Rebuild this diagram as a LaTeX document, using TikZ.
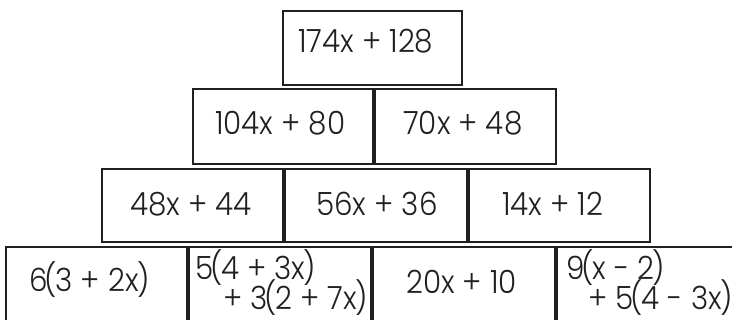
\documentclass[tikz,border=0pt]{standalone}
\usepackage{fontspec}
\setmainfont{Poppins Light}[FakeStretch=0.92]
\definecolor{ink}{HTML}{231F20}
\newcommand\lpar{\kern-3pt(\kern-1.5pt}
\newcommand\rpar{\kern-1.5pt)}
\begin{document}
\begin{tikzpicture}[x=1pt,y=-1pt,
  brick/.style={draw=ink,line width=2.2pt},
  expr/.style={inner sep=0pt,anchor=base west,text=ink,font=\fontsize{32}{34}\selectfont}]
\useasboundingbox (0,0) rectangle (732,320);
\clip (0,0) rectangle (732,320);
% row 1
\draw[brick] (283,11) rectangle (462,85);
% row 2
\draw[brick] (193,89) rectangle (372.8,164);
\draw[brick] (375.2,89) rectangle (556,164);
% row 3
\draw[brick] (102,169) rectangle (282.8,242);
\draw[brick] (285.2,169) rectangle (466.8,242);
\draw[brick] (469.2,169) rectangle (650,242);
% row 4
\draw[brick] (6,247) rectangle (186.8,335);
\draw[brick] (189.2,247) rectangle (370.8,335);
\draw[brick] (373.2,247) rectangle (554.8,335);
\draw[brick] (557.2,247) rectangle (745,335);
% texts
\node[expr] (t1) at (298,53) {174x + 128};
\node[expr] (t2a) at (215,135) {104x + 80};
\node[expr] (t2b) at (403,135) {70x + 48};
\node[expr] (t3a) at (130,216) {48x + 44};
\node[expr] (t3b) at (316,216) {56x + 36};
\node[expr] (t3c) at (502,216) {14x + 12};
\node[expr] (t4a) at (29,292) {6\lpar 3 + 2x\rpar};
\node[expr] (t4b1) at (195,280) {5\lpar 4 + 3x\rpar};
\node[expr] (t4b2) at (223,310) {+ 3\lpar 2 + 7x\rpar};
\node[expr] (t4c) at (406,294) {20x + 10};
\node[expr] (t4d1) at (566,280) {9\lpar x - 2\rpar};
\node[expr] (t4d2) at (588,310) {+ 5\lpar 4 - 3x\rpar};
\end{tikzpicture}
\end{document}
